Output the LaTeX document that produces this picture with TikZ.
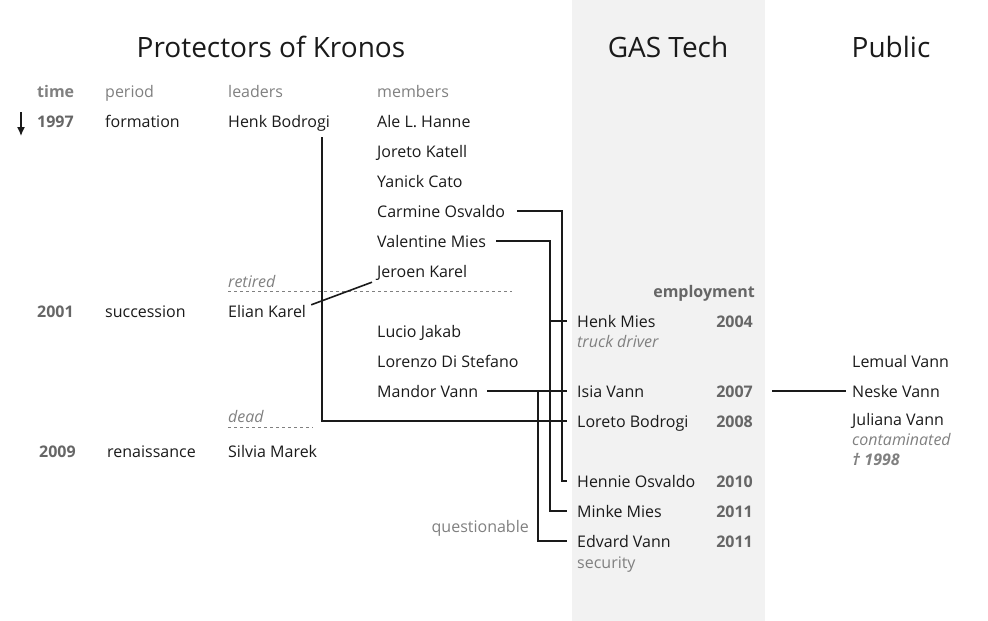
\documentclass[tikz,border=0pt]{standalone}
\usepackage{fontspec}
\setmainfont{Open Sans}
\usetikzlibrary{arrows.meta}

\definecolor{bandgray}{HTML}{F2F2F2}
\definecolor{txtgray}{HTML}{808080}
\definecolor{yeargray}{HTML}{666666}
\definecolor{ink}{HTML}{1A1A1A}

\tikzset{
  person/.style={anchor=west,inner sep=0pt,text height=13pt,text depth=1pt,
    font=\fontsize{16}{19}\selectfont,text=ink},
  head/.style={person,text=txtgray},
  year/.style={person,text=yeargray,font=\fontsize{16}{19}\selectfont\bfseries},
  remark/.style={person,text=txtgray,font=\fontsize{16}{19}\selectfont\itshape},
  title/.style={inner sep=0pt,font=\fontsize{28}{32}\selectfont,text=ink},
  link/.style={line width=1.6pt,draw=ink},
  cut/.style={dashed,draw=txtgray,line width=1pt}
}

\begin{document}
\begin{tikzpicture}[x=1pt,y=-1pt]
    % columns
      \def\xtime{37}
      \def\xperiod{105}
      \def\xlead{228}
      \def\xmemb{377}
      \def\xgas{577}
      \def\xyear{753}
      \def\xpub{852}
    % first row and row height
      \def\ytop{121}
      \def\rowh{30}

    % Draw frame and GAS Tech band
      \useasboundingbox (0,0) rectangle (988,621);
      \fill[bandgray] (572,0) rectangle (765,621);

    % Draw the titles
      \node[title] (kronos) at (271,47) {Protectors of Kronos};
      \node[title] (gastech) at (668,47) {GAS Tech};
      \node[title] (public) at (891,47) {Public};

    % Draw the column heads
      \node[head,font=\fontsize{16}{19}\selectfont\bfseries] (htime) at (\xtime,91) {time};
      \node[head] (hperiod) at (\xperiod,91) {period};
      \node[head] (hlead) at (\xlead,91) {leaders};
      \node[head] (hmemb) at (\xmemb,91) {members};
      \node[year,anchor=east] (hjob) at (755,291) {employment};

    % Draw the time arrow
      \draw[-{Latex[length=9pt,width=8pt]},line width=1.4pt,ink] (21,112) -- (21,136);

    % Draw the periods
      \node[year] (y1997) at (\xtime,\ytop) {1997};
      \node[person] (formation) at (\xperiod,\ytop) {formation};
      \node[year] (y2001) at (\xtime,311) {2001};
      \node[person] (succession) at (\xperiod,311) {succession};
      \node[year] (y2009) at (\xtime+2,\ytop+11*\rowh) {2009};
      \node[person] (renaissance) at (\xperiod+2,\ytop+11*\rowh) {renaissance};

    % Draw the leaders
      \node[person] (henkb) at (\xlead,\ytop) {Henk Bodrogi};
      \node[person] (elian) at (\xlead,311) {Elian Karel};
      \node[person] (silvia) at (\xlead,\ytop+11*\rowh) {Silvia Marek};
      \node[remark] (retired) at (\xlead,281) {retired};
      \node[remark] (dead) at (\xlead,416) {dead};
      \draw[cut] (\xlead,291) -- (512,291);
      \draw[cut] (\xlead,427) -- (313,427);

    % Draw the members
      \foreach \nm/\txt/\r in {hanne/Ale L. Hanne/0, katell/Joreto Katell/1,
          cato/Yanick Cato/2, carmine/Carmine Osvaldo/3, valentine/Valentine Mies/4,
          jeroen/Jeroen Karel/5, lucio/Lucio Jakab/7, lorenzo/Lorenzo Di Stefano/8,
          mandor/Mandor Vann/9}
        \node[person] (\nm) at (\xmemb,\ytop+\r*\rowh) {\txt};

    % Draw the GAS Tech staff
      \foreach \nm/\txt/\yr/\y in {henkm/Henk Mies/2004/321, isia/Isia Vann/2007/391,
          loreto/Loreto Bodrogi/2008/421, hennie/Hennie Osvaldo/2010/481,
          minke/Minke Mies/2011/511, edvard/Edvard Vann/2011/541}
      {
        \node[person] (\nm) at (\xgas,\y) {\txt};
        \node[year,anchor=east] (\nm yr) at (\xyear,\y) {\yr};
      }
      \node[remark] (truck) at (\xgas,341) {truck driver};
      \node[head] (security) at (\xgas,562) {security};

    % Draw the public
      \node[person] (lemual) at (\xpub,361) {Lemual Vann};
      \node[person] (neske) at (\xpub,391) {Neske Vann};
      \node[person] (juliana) at (\xpub,419) {Juliana Vann};
      \node[remark] (contam) at (\xpub,439) {contaminated};
      \node[remark,font=\fontsize{16}{19}\selectfont\bfseries\itshape] (died) at (\xpub,459) {† 1998};

    % lanes of the vertical links
      \coordinate (laneH) at (322,0);
      \coordinate (laneC) at (562,0);
      \coordinate (laneV) at (550,0);
      \coordinate (laneM) at (538,0);

    % Draw the links
      \draw[link,shorten <=9pt,shorten >=10pt] (henkb.south -| laneH) |- (loreto.west);
      \draw[link] ([xshift=5pt,yshift=-1pt]elian.north east) -- ([xshift=-5pt,yshift=-4pt]jeroen.south west);
      \draw[link,shorten <=12pt,shorten >=10pt] (carmine.east) -- (carmine.east -| laneC) |- (hennie.west);
      \draw[link,shorten <=10pt,shorten >=10pt] (valentine.east) -- (valentine.east -| laneV) |- (minke.west);
      \draw[link,shorten >=10pt] (henkm.west -| laneV) -- (henkm.west);
      \draw[link,shorten <=9pt,shorten >=10pt] (mandor.east) -- (isia.west);
      \draw[link,shorten >=10pt] (mandor.east -| laneM) |- (edvard.west);
      \draw[link,shorten <=19pt,shorten >=6pt] (isiayr.east) -- (neske.west);
      \node[head,anchor=east] (doubt) at (529,526) {questionable};

\end{tikzpicture}
\end{document}
